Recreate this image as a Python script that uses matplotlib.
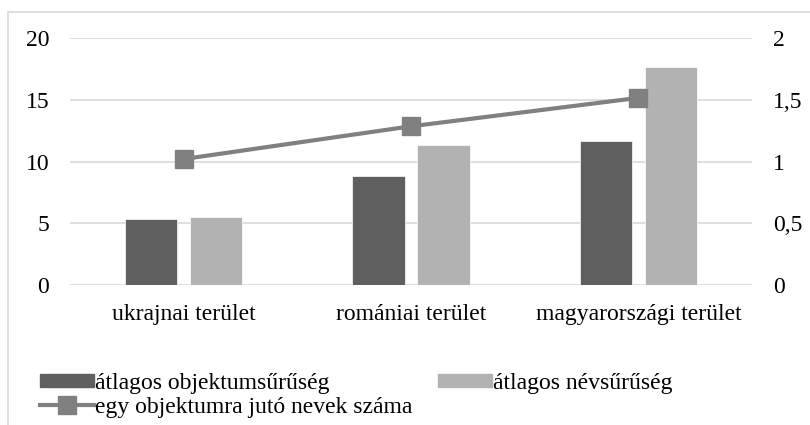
import matplotlib
matplotlib.use('Agg')
import matplotlib.pyplot as plt
from matplotlib.patches import Rectangle
from matplotlib.lines import Line2D
import numpy as np

plt.rcParams['font.family'] = ['Liberation Serif', 'DejaVu Serif']

categories = ['ukrajnai terület', 'romániai terület', 'magyarországi terület']
obj_density = [5.36, 8.80, 11.63]      # átlagos objektumsűrűség
name_density = [5.52, 11.34, 17.68]    # átlagos névsűrűség
names_per_obj = [1.02, 1.285, 1.515]   # egy objektumra jutó nevek száma

left_ticks = [0, 5, 10, 15, 20]
right_ticks = [0, 0.5, 1, 1.5, 2]
right_labels = ['0', '0,5', '1', '1,5', '2']

c_dark = '#5f5f5f'
c_light = '#b2b2b2'
c_line = '#808080'
c_grid = '#d9d9d9'
fs = 17

fig = plt.figure(figsize=(8.1, 4.25), dpi=100)
W, H = 810, 425
ax = fig.add_axes([70 / W, 1 - 285 / H, (752 - 70) / W, (285 - 38) / H])

# outer frame of the chart
fig.patches.append(Rectangle((8 / W, -0.1), 1.2, 1 - 12 / H + 0.1, transform=fig.transFigure,
                             fill=False, edgecolor=c_grid, linewidth=1.2))

x = np.arange(len(categories))
bw = 0.23
off = 0.143
ax.bar(x - off, obj_density, bw, color=c_dark, edgecolor='white', linewidth=0.5, zorder=2)
ax.bar(x + off, name_density, bw, color=c_light, edgecolor='white', linewidth=0.5, zorder=2)

ax.set_xlim(-0.5, len(categories) - 0.5)
ax.set_ylim(0, 20)
ax.set_yticks(left_ticks)
ax.set_xticks(x)
ax.set_xticklabels(categories)
ax.grid(axis='y', color=c_grid, linewidth=1.2, zorder=0)
ax.set_axisbelow(True)
for s in ax.spines.values():
    s.set_visible(False)
ax.tick_params(axis='both', length=0, labelsize=fs, colors='black')
ax.tick_params(axis='x', pad=14)
ax.tick_params(axis='y', pad=15)

ax2 = ax.twinx()
ax2.plot(x, names_per_obj, color=c_line, linewidth=3, marker='s', markersize=12.5, zorder=3)
ax2.set_ylim(0, 2)
ax2.set_yticks(right_ticks)
ax2.set_yticklabels(right_labels)
for s in ax2.spines.values():
    s.set_visible(False)
ax2.tick_params(axis='y', length=0, labelsize=fs, pad=15)

handles = [Rectangle((0, 0), 1, 1, color=c_dark),
           Line2D([], [], color=c_line, linewidth=3, marker='s', markersize=12.5),
           Rectangle((0, 0), 1, 1, color=c_light)]
labels = ['átlagos objektumsűrűség', 'egy objektumra jutó nevek száma', 'átlagos névsűrűség']
fig.legend(handles, labels, ncol=2, loc='upper left', bbox_to_anchor=(40 / W, 1 - 373 / H),
           frameon=False, fontsize=fs, handlelength=2.3, handleheight=0.5, handletextpad=0.05,
           columnspacing=1.05, labelspacing=0.12, borderaxespad=0, borderpad=0)

fig.savefig('out.png', dpi=100, facecolor='white')
